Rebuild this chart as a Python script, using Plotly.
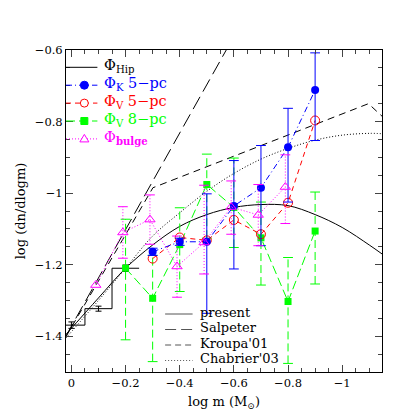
import plotly.graph_objects as go

# --- data ---
model_x = [0.02, -0.1, -0.2, -0.3, -0.4, -0.5, -0.6, -0.7, -0.8, -0.9, -1.0, -1.1, -1.147]
present_y = [-1.395, -1.293, -1.21, -1.145, -1.093, -1.06, -1.04, -1.032, -1.035, -1.06, -1.096, -1.145, -1.17]
chabrier_y = [-1.405, -1.30, -1.21, -1.12, -1.055, -0.995, -0.945, -0.905, -0.875, -0.852, -0.838, -0.833, -0.834]
salpeter_x = [0.02, -0.6]
salpeter_y = [-1.399, -0.562]
kroupa_x = [0.02, -0.301, -1.097, -1.147]
kroupa_y = [-1.401, -0.985, -0.750, -0.785]

hip_x = [0.0, -0.1, -0.2]
hip_y = [-1.369, -1.323, -1.21]
hip_err = [0.009, 0.007, 0.009]
hip_edges = [0.05, -0.05, -0.15, -0.25]

k5_x = [-0.3, -0.4, -0.5, -0.6, -0.7, -0.8, -0.9]
k5_y = [-1.164, -1.136, -1.136, -1.036, -0.985, -0.872, -0.712]
k5_hi = [0.01, 0.01, 0.134, 0.127, 0.118, 0.109, 0.104]
k5_lo = [0.01, 0.01, 0.200, 0.176, 0.162, 0.153, 0.141]

v5_x = [-0.3, -0.4, -0.5, -0.6, -0.7, -0.8, -0.9]
v5_y = [-1.183, -1.124, -1.132, -1.075, -1.115, -1.027, -0.797]

v8_x = [-0.2, -0.3, -0.4, -0.5, -0.6, -0.7, -0.8, -0.9]
v8_y = [-1.210, -1.294, -1.144, -0.976, -1.04, -1.125, -1.303, -1.106]
v8_hi = [0.137, 0.12, 0.103, 0.085, 0.138, 0.10, 0.123, 0.109]
v8_lo = [0.200, 0.177, 0.131, 0.15, 0.112, 0.132, 0.173, 0.148]

bulge_x = [-0.09, -0.19, -0.29, -0.39, -0.49, -0.59, -0.69, -0.79]
bulge_y = [-1.257, -1.11, -1.074, -1.205, -1.138, -1.039, -1.061, -0.983]
bulge_hi = [0.0, 0.072, 0.069, 0.085, 0.16, 0.073, 0.085, 0.09]
bulge_lo = [0.0, 0.072, 0.069, 0.086, 0.088, 0.076, 0.086, 0.102]

FONT = "DejaVu Serif"
BLUE, RED, GREEN, MAGENTA = "#0000ff", "#ff0000", "#00ff00", "#ff00ff"

# plot area in pixels (for the hand-made legends)
PX0, PX1, PY0, PY1 = 52, 374, 42, 364


def px(x):
    return (x - PX0) / (PX1 - PX0)


def py(y):
    return (PY1 - y) / (PY1 - PY0)


def err_bars(fig, xs, ys, hi, lo, color, dash):
    # vertical bars as a line trace, caps as horizontal line markers
    sx, sy, cx, cy = [], [], [], []
    for x, y, h, l in zip(xs, ys, hi, lo):
        if h == 0 and l == 0:
            continue
        sx += [x, x, None]
        sy += [y - l, y + h, None]
        cx += [x, x]
        cy += [y - l, y + h]
    fig.add_trace(go.Scatter(x=sx, y=sy, mode="lines", showlegend=False,
                             line=dict(color=color, width=1, dash=dash), hoverinfo="skip"))
    fig.add_trace(go.Scatter(x=cx, y=cy, mode="markers", showlegend=False, hoverinfo="skip",
                             marker=dict(symbol="line-ew", size=7,
                                         line=dict(color=color, width=1))))


fig = go.Figure()

# model curves
fig.add_trace(go.Scatter(x=model_x, y=present_y, mode="lines", name="present",
                         line=dict(color="black", width=1, shape="spline")))
fig.add_trace(go.Scatter(x=salpeter_x, y=salpeter_y, mode="lines", name="Salpeter",
                         line=dict(color="black", width=1, dash="14px,6px")))
fig.add_trace(go.Scatter(x=kroupa_x, y=kroupa_y, mode="lines", name="Kroupa'01",
                         line=dict(color="black", width=1, dash="7px,5px")))
fig.add_trace(go.Scatter(x=model_x, y=chabrier_y, mode="lines", name="Chabrier'03",
                         line=dict(color="black", width=1, dash="1px,2px", shape="spline")))

# Hipparcos histogram
fig.add_trace(go.Scatter(x=hip_edges, y=hip_y + hip_y[-1:], mode="lines",
                         name="Hip", line=dict(color="black", width=1, shape="hv")))
fig.add_trace(go.Scatter(x=hip_x, y=hip_y, mode="markers",
                         marker=dict(size=1, color="black"),
                         error_y=dict(type="data", array=hip_err, color="black",
                                      thickness=1, width=3)))

# V 8-pc
err_bars(fig, v8_x, v8_y, v8_hi, v8_lo, GREEN, "8px,4px")
fig.add_trace(go.Scatter(x=v8_x, y=v8_y, mode="lines+markers", name="V 8-pc",
                         line=dict(color=GREEN, width=1, dash="9px,4px"),
                         marker=dict(symbol="square", size=7, color=GREEN)))

# V 5-pc
fig.add_trace(go.Scatter(x=v5_x, y=v5_y, mode="lines+markers", name="V 5-pc",
                         line=dict(color=RED, width=1, dash="5px,4px"),
                         marker=dict(symbol="circle-open", size=9, color=RED,
                                     line=dict(width=1))))

# K 5-pc
err_bars(fig, k5_x, k5_y, k5_hi, k5_lo, BLUE, "solid")
fig.add_trace(go.Scatter(x=k5_x, y=k5_y, mode="lines+markers", name="K 5-pc",
                         line=dict(color=BLUE, width=1, dash="6px,3px,1px,3px"),
                         marker=dict(symbol="circle", size=8, color=BLUE)))

# bulge
err_bars(fig, bulge_x, bulge_y, bulge_hi, bulge_lo, MAGENTA, "1px,2px")
fig.add_trace(go.Scatter(x=bulge_x, y=bulge_y, mode="lines+markers", name="bulge",
                         line=dict(color=MAGENTA, width=1, dash="1px,2px"),
                         marker=dict(symbol="triangle-up-open", size=9, color=MAGENTA,
                                     line=dict(width=1))))

# --- hand-made legends (plotly's own legend rows are too tall for this layout) ---
shapes, annots = [], []

top_entries = [
    ("Φ<sub>Hip</sub>", "black", "solid", None),
    ("Φ<sub>K</sub> 5−pc", BLUE, "6px,3px,1px,3px", "circle"),
    ("Φ<sub>V</sub> 5−pc", RED, "5px,4px", "circle-open"),
    ("Φ<sub>V</sub> 8−pc", GREEN, "9px,4px", "square"),
    ("Φ<sub><b>bulge</b></sub>", MAGENTA, "1px,2px", "triangle"),
]
for i, (label, col, dash, sym) in enumerate(top_entries):
    yy = 59.3 + 17.9 * i
    shapes.append(dict(type="line", xref="paper", yref="paper", x0=px(52), x1=px(84),
                       y0=py(yy), y1=py(yy), line=dict(color=col, width=1, dash=dash)))
    mk = dict(xref="paper", yref="paper", xsizemode="pixel", ysizemode="pixel",
              xanchor=px(70.7), yanchor=py(yy), line=dict(color=col, width=1))
    if sym == "circle":
        shapes.append(dict(type="circle", x0=-4, x1=4, y0=-4, y1=4, fillcolor=col, **mk))
    elif sym == "circle-open":
        shapes.append(dict(type="circle", x0=-4, x1=4, y0=-4, y1=4, fillcolor="white", **mk))
    elif sym == "square":
        shapes.append(dict(type="rect", x0=-3.5, x1=3.5, y0=-3.5, y1=3.5, fillcolor=col, **mk))
    elif sym == "triangle":
        shapes.append(dict(type="path", path="M -4.5,-3 L 4.5,-3 L 0,4.5 Z",
                           fillcolor="white", **mk))
    annots.append(dict(text=label, xref="paper", yref="paper", x=px(89), y=py(yy - 1),
                       xanchor="left", yanchor="middle", showarrow=False,
                       font=dict(family=FONT, size=14.5, color=col)))

bottom_entries = [
    ("present", "solid"),
    ("Salpeter", "11px,5px"),
    ("Kroupa'01", "6px,4px"),
    ("Chabrier'03", "1px,2px"),
]
for i, (label, dash) in enumerate(bottom_entries):
    yy = 306 + 15.5 * i
    shapes.append(dict(type="line", xref="paper", yref="paper", x0=px(153), x1=px(181),
                       y0=py(yy), y1=py(yy), line=dict(color="#555", width=1, dash=dash)))
    annots.append(dict(text=label, xref="paper", yref="paper", x=px(186), y=py(yy - 2),
                       xanchor="left", yanchor="middle", showarrow=False,
                       font=dict(family=FONT, size=13, color="black")))

axis_common = dict(showline=True, linecolor="black", linewidth=1, mirror="allticks",
                   ticks="inside", ticklen=7, tickcolor="#444", tickwidth=1,
                   showgrid=False, zeroline=False,
                   tickfont=dict(family=FONT, size=11.5, color="black"),
                   minor=dict(ticks="inside", ticklen=4, tickcolor="#444", tickwidth=1))

fig.update_xaxes(range=[0.02, -1.147], tick0=0, dtick=0.2, minor_dtick=0.05,
                 title=dict(text="log m (M<sub>⊙</sub>)", font=dict(family=FONT, size=13),
                            standoff=8),
                 **axis_common)
fig.update_yaxes(range=[-1.5, -0.6], tick0=-1.4, dtick=0.2, minor_dtick=0.05,
                 title=dict(text="log (dn/dlogm)", font=dict(family=FONT, size=13),
                            standoff=6),
                 **axis_common)

fig.update_layout(
    width=415, height=415,
    margin=dict(l=PX0, r=415 - PX1, t=PY0, b=415 - PY1),
    paper_bgcolor="white", plot_bgcolor="white",
    font=dict(family=FONT, color="black"),
    showlegend=False,
    shapes=shapes, annotations=annots,
)

fig.write_html("out.html")
